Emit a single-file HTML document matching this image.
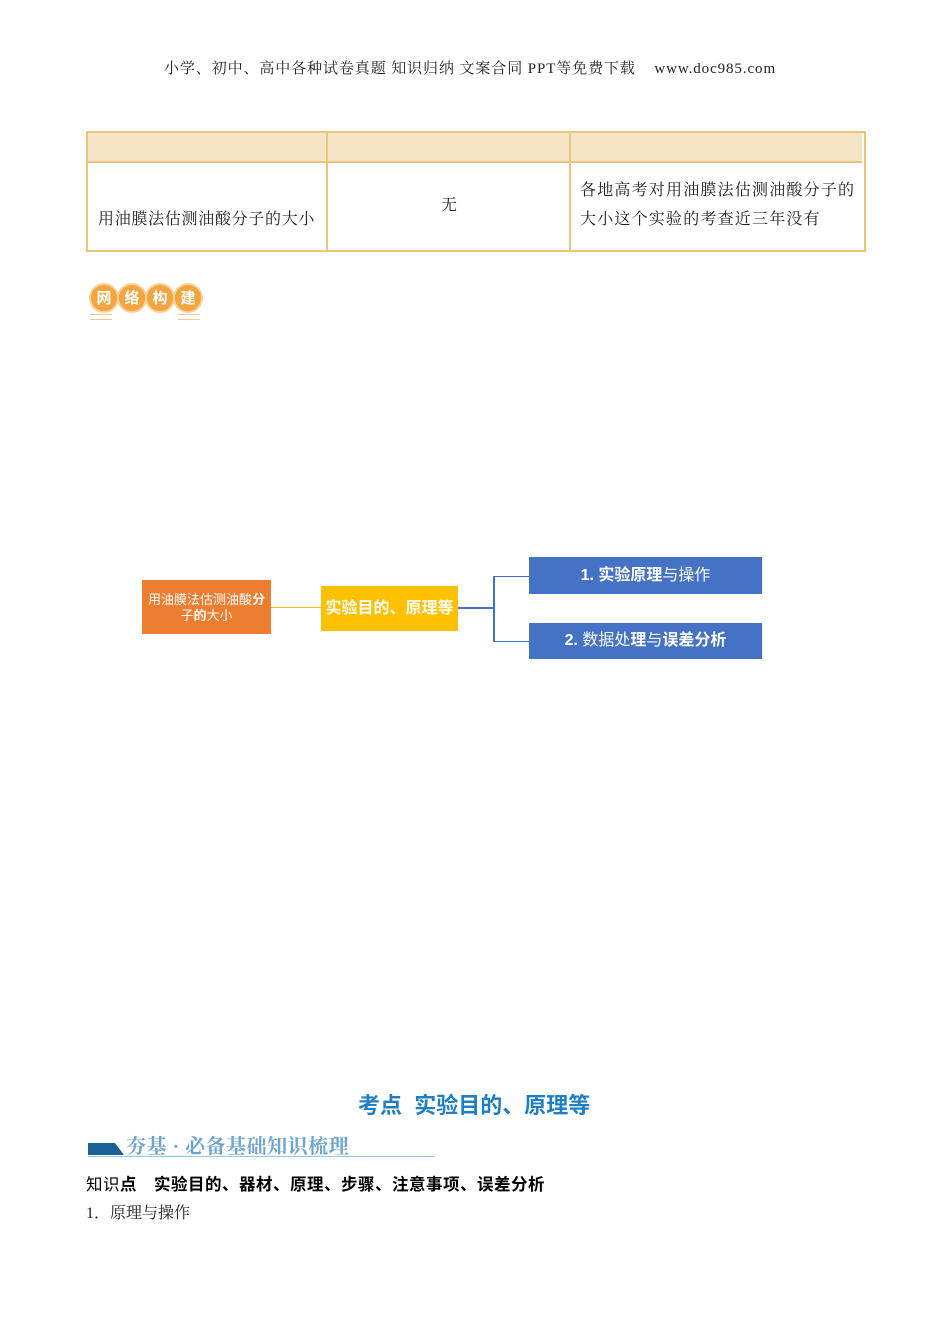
<!DOCTYPE html>
<html><head><meta charset="utf-8"><style>
body{margin:0;width:950px;height:1344px;background:#fff;position:relative;font-family:"Liberation Serif","Noto Serif CJK SC",serif;overflow:hidden}
.a{position:absolute;white-space:nowrap}
.s{font-family:"Liberation Sans","Noto Sans CJK SC",sans-serif}
.c{position:absolute;width:26px;height:26px;border-radius:50%;background:#f2a541;border:2px solid #f8d29a;color:#fff;font:bold 15px "Noto Sans CJK SC",sans-serif;text-align:center;line-height:26px}
</style></head><body>
<div class="a" style="left:164px;top:57px;font-size:15px;letter-spacing:0.9px;color:#222">小学、初中、高中各种试卷真题 知识归纳 文案合同 PPT等免费下载 &nbsp;&nbsp;&nbsp;www.doc985.com</div>

<div class="a" style="left:86px;top:131px;width:776px;height:117px;border:2px solid #e8c77a"></div>
<div class="a" style="left:88px;top:133px;width:774px;height:28px;background:#f6e4c7;border-bottom:2px solid #e8c77a"></div>
<div class="a" style="left:326px;top:131px;width:2px;height:119px;background:#e8c77a"></div>
<div class="a" style="left:569px;top:131px;width:2px;height:119px;background:#e8c77a"></div>
<div class="a" style="left:98px;top:206px;font-size:16px;letter-spacing:0.7px;color:#222">用油膜法估测油酸分子的大小</div>
<div class="a" style="left:441px;top:192px;font-size:16px;color:#222">无</div>
<div class="a" style="left:580px;top:176px;font-size:16px;letter-spacing:1.2px;color:#222;line-height:29px">各地高考对用油膜法估测油酸分子的<br>大小这个实验的考查近三年没有</div>

<div class="c" style="left:89px;top:283px">网</div>
<div class="c" style="left:117px;top:283px">络</div>
<div class="c" style="left:145px;top:283px">构</div>
<div class="c" style="left:173px;top:283px">建</div>
<div class="a" style="left:90px;top:314px;width:22px;height:4px;border-top:1px solid #f0c89a;border-bottom:1px solid #f0c89a"></div>
<div class="a" style="left:178px;top:314px;width:22px;height:4px;border-top:1px solid #f0c89a;border-bottom:1px solid #f0c89a"></div>

<div class="a s" style="left:142px;top:580px;width:129px;height:54px;background:#ed7d31;color:#fff;font-size:13px;text-align:center;line-height:16px;padding-top:12px;box-sizing:border-box;white-space:normal">用油膜法估测油酸<b>分</b><br>子<b>的</b>大小</div>
<div class="a" style="left:271px;top:607px;width:50px;height:1px;background:#ffc000"></div>
<div class="a s" style="left:321px;top:586px;width:137px;height:45px;background:#ffc000;color:#fff;font-size:16px;font-weight:bold;text-align:center;line-height:45px">实验目的、原理等</div>
<div class="a" style="left:458px;top:607px;width:35px;height:2px;background:#4472c4"></div>
<div class="a" style="left:493px;top:576px;width:2px;height:66px;background:#4472c4"></div>
<div class="a" style="left:493px;top:576px;width:36px;height:1px;background:#4472c4"></div>
<div class="a" style="left:493px;top:641px;width:36px;height:1px;background:#4472c4"></div>
<div class="a s" style="left:529px;top:557px;width:233px;height:37px;background:#4472c4;color:#fff;font-size:16px;text-align:center;line-height:37px"><b>1. 实验原理</b>与操作</div>
<div class="a s" style="left:529px;top:623px;width:233px;height:36px;background:#4472c4;color:#fff;font-size:16px;text-align:center;line-height:36px"><b>2.</b> 数据处<b>理</b>与<b>误差分析</b></div>

<div class="a s" style="left:358px;top:1088px;font-size:22px;font-weight:bold;color:#1f7fc4">考点&nbsp; 实验目的、原理等</div>
<div class="a" style="left:88px;top:1143px;width:36px;height:12px;background:#1a5f95;clip-path:polygon(0 0,75% 0,100% 100%,0 100%)"></div>
<div class="a" style="left:126px;top:1130px;font-size:20px;letter-spacing:0.5px;font-weight:bold;color:#6fa4cf">夯基 · 必备基础知识梳理</div>
<div class="a" style="left:88px;top:1156px;width:346px;height:1px;background:#9cc3e0"></div>
<div class="a s" style="left:86px;top:1171px;font-size:16.5px;letter-spacing:0.5px;color:#000">知识<b>点　实验目的、器材、原理、步骤、注意事项、误差分析</b></div>
<div class="a" style="left:86px;top:1200px;font-size:16px;color:#222">1．原理与操作</div>
</body></html>
